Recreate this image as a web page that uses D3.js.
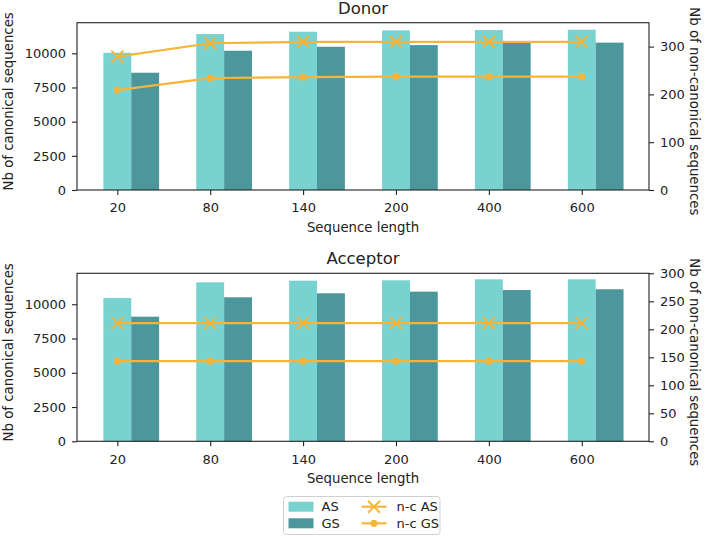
<!DOCTYPE html>
<html>
<head>
<meta charset="utf-8">
<script src="https://cdn.jsdelivr.net/npm/d3@7"></script>
<style>
  body { margin: 0; background: #fff; }
  svg { display: block; }
  text { font-family: "DejaVu Sans", sans-serif; fill: #222; }
</style>
</head>
<body>
<svg id="chart" width="708" height="537"></svg>
<script>
const categories = ["20", "80", "140", "200", "400", "600"];

const donorAS = [10040, 11410, 11580, 11680, 11700, 11725];
const donorGS = [8580, 10190, 10480, 10600, 10775, 10780];
const donorNcAS = [279, 307, 310, 310, 310, 310];
const donorNcGS = [209, 234, 236, 237, 237, 237];

const acceptorAS = [10460, 11600, 11720, 11750, 11820, 11820];
const acceptorGS = [9095, 10510, 10800, 10920, 11040, 11095];
const acceptorNcAS = [211, 211, 211, 211, 211, 211];
const acceptorNcGS = [143, 143, 143, 143, 143, 143];

const leftTicks = [0, 2500, 5000, 7500, 10000];
const donorRightTicks = [0, 100, 200, 300];
const acceptorRightTicks = [0, 50, 100, 150, 200, 250, 300];

const colAS = "#77d2d0";
const colGS = "#4b979c";
const colLine = "#f6b43a";

const svg = d3.select("#chart");
const L = 77, R = 649;

function panel(cfg) {
  const g = svg.append("g");
  const x = d3.scaleLinear().domain([-0.434, 5.724]).range([L, R]);
  const yL = d3.scaleLinear().domain([0, cfg.leftMax]).range([cfg.bottom, cfg.top]);
  const yR = d3.scaleLinear().domain([0, cfg.rightMax]).range([cfg.bottom, cfg.top]);
  const bw = x(0.3) - x(0);

  // bars
  g.selectAll(".as").data(cfg.as).enter().append("rect")
    .attr("x", (d, i) => x(i - 0.15)).attr("width", bw)
    .attr("y", d => yL(d)).attr("height", d => yL(0) - yL(d))
    .attr("fill", colAS);
  g.selectAll(".gs").data(cfg.gs).enter().append("rect")
    .attr("x", (d, i) => x(i + 0.15)).attr("width", bw)
    .attr("y", d => yL(d)).attr("height", d => yL(0) - yL(d))
    .attr("fill", colGS);

  // lines
  const line = d3.line().x((d, i) => x(i)).y(d => yR(d));
  g.append("path").datum(cfg.ncAS).attr("d", line)
    .attr("fill", "none").attr("stroke", colLine).attr("stroke-width", 2.2);
  g.append("path").datum(cfg.ncGS).attr("d", line)
    .attr("fill", "none").attr("stroke", colLine).attr("stroke-width", 2.2);
  const s = 6;
  g.selectAll(".xm").data(cfg.ncAS).enter().append("path")
    .attr("d", (d, i) => {
      const cx = x(i), cy = yR(d);
      return `M${cx - s},${cy - s}L${cx + s},${cy + s}M${cx - s},${cy + s}L${cx + s},${cy - s}`;
    })
    .attr("stroke", colLine).attr("stroke-width", 2).attr("fill", "none");
  g.selectAll(".cm").data(cfg.ncGS).enter().append("circle")
    .attr("cx", (d, i) => x(i)).attr("cy", d => yR(d)).attr("r", 3.6)
    .attr("fill", colLine);

  // frame
  g.append("rect").attr("x", L).attr("y", cfg.top)
    .attr("width", R - L).attr("height", cfg.bottom - cfg.top)
    .attr("fill", "none").attr("stroke", "#222").attr("stroke-width", 1.1);

  // axes
  const ax = g.append("g").attr("transform", `translate(0,${cfg.bottom})`)
    .call(d3.axisBottom(x).tickValues(d3.range(categories.length))
      .tickFormat(i => categories[i]).tickSize(5).tickPadding(8));
  const ayl = g.append("g").attr("transform", `translate(${L},0)`)
    .call(d3.axisLeft(yL).tickValues(leftTicks).tickFormat(d3.format("d")).tickSize(5).tickPadding(6));
  const ayr = g.append("g").attr("transform", `translate(${R},0)`)
    .call(d3.axisRight(yR).tickValues(cfg.rightTicks).tickFormat(d3.format("d")).tickSize(5).tickPadding(6));
  [ax, ayl, ayr].forEach(a => {
    a.select(".domain").remove();
    a.selectAll("line").attr("stroke", "#222").attr("stroke-width", 1.1);
    a.selectAll("text").attr("font-size", 13).attr("font-family", "DejaVu Sans, sans-serif").attr("fill", "#222");
  });

  // labels
  g.append("text").attr("x", (L + R) / 2).attr("y", cfg.top - 9)
    .attr("text-anchor", "middle").attr("font-size", 16.5).text(cfg.title);
  g.append("text").attr("x", (L + R) / 2).attr("y", cfg.bottom + 42)
    .attr("text-anchor", "middle").attr("font-size", 13.3).text("Sequence length");
  g.append("text").attr("transform", `translate(12.5,${(cfg.top + cfg.bottom) / 2 - 5}) rotate(-90)`)
    .attr("text-anchor", "middle").attr("font-size", 13.3).text("Nb of canonical sequences");
  g.append("text").attr("transform", `translate(690,${(cfg.top + cfg.bottom) / 2 + 5}) rotate(90)`)
    .attr("text-anchor", "middle").attr("font-size", 13.3).text("Nb of non-canonical sequences");
}

panel({ title: "Donor", top: 22.7, bottom: 190, leftMax: 12240, rightMax: 350,
  rightTicks: donorRightTicks, as: donorAS, gs: donorGS, ncAS: donorNcAS, ncGS: donorNcGS });
panel({ title: "Acceptor", top: 273.3, bottom: 441.3, leftMax: 12260, rightMax: 300,
  rightTicks: acceptorRightTicks, as: acceptorAS, gs: acceptorGS, ncAS: acceptorNcAS, ncGS: acceptorNcGS });

// legend
const lg = svg.append("g");
lg.append("rect").attr("x", 283.5).attr("y", 496.5).attr("width", 156.5).attr("height", 38)
  .attr("rx", 3).attr("fill", "#fff").attr("stroke", "#d0d0d0").attr("stroke-width", 1);
const legendBars = [{ name: "AS", c: colAS }, { name: "GS", c: colGS }];
legendBars.forEach((d, i) => {
  const cy = 506.7 + i * 16.6;
  lg.append("rect").attr("x", 288.5).attr("y", cy - 5).attr("width", 25).attr("height", 10).attr("fill", d.c);
  lg.append("text").attr("x", 321.5).attr("y", cy).attr("dy", "0.35em").attr("font-size", 13).text(d.name);
});
const legendLines = ["n-c AS", "n-c GS"];
legendLines.forEach((name, i) => {
  const cy = 506.7 + i * 16.6, x0 = 361.5, x1 = 386.5, cx = (x0 + x1) / 2;
  lg.append("line").attr("x1", x0).attr("x2", x1).attr("y1", cy).attr("y2", cy)
    .attr("stroke", colLine).attr("stroke-width", 2.2);
  if (i === 0) {
    const s = 6;
    lg.append("path").attr("d", `M${cx - s},${cy - s}L${cx + s},${cy + s}M${cx - s},${cy + s}L${cx + s},${cy - s}`)
      .attr("stroke", colLine).attr("stroke-width", 2).attr("fill", "none");
  } else {
    lg.append("circle").attr("cx", cx).attr("cy", cy).attr("r", 3.6).attr("fill", colLine);
  }
  lg.append("text").attr("x", 396.5).attr("y", cy).attr("dy", "0.35em").attr("font-size", 13).text(name);
});
</script>
</body>
</html>
